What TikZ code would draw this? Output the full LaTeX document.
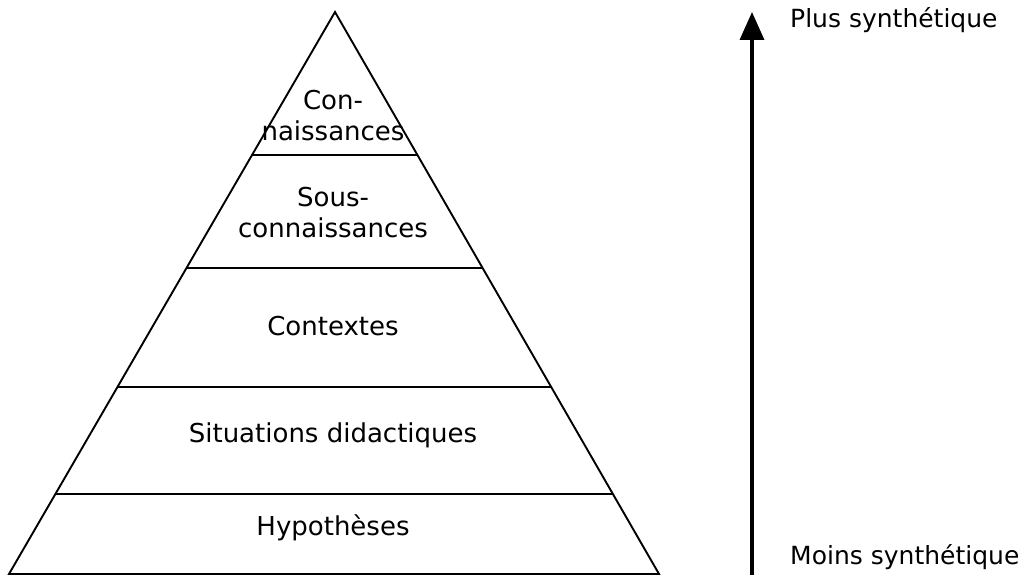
\documentclass[tikz,border=0pt]{standalone}
\usepackage{fontspec}
\setmainfont{DejaVu Sans}
\usetikzlibrary{calc,arrows.meta}
\begin{document}
\begin{tikzpicture}[x=1pt,y=-1pt,
  edge/.style={line width=1.9pt,black},
  layer/.style={font=\fontsize{26}{31}\selectfont,align=center,inner sep=0pt},
  side/.style={font=\fontsize{25}{28}\selectfont,anchor=west,inner sep=0pt}]
\useasboundingbox (0,0) rectangle (1024,577);
% pyramid outline
\coordinate (apex) at (335,12);
\coordinate (bl) at (9,574);
\coordinate (br) at (659,574);
\draw[edge,line join=miter] (apex) -- (br) -- (bl) -- cycle;
% layer boundaries
\foreach \t/\n in {0.2544/a,0.4555/b,0.6673/c,0.8577/d}{
  \coordinate (l\n) at ($(apex)!\t!(bl)$);
  \coordinate (r\n) at ($(apex)!\t!(br)$);
  \draw[edge] (l\n) -- (r\n);
}
% layer labels
\node[layer] (t1) at (333,116) {Con-\\naissances};
\node[layer] (t2) at (333,213) {Sous-\\connaissances};
\node[layer] (t3) at (333,326) {Contextes};
\node[layer] (t4) at (333,435) {Situations didactiques};
\node[layer] (t5) at (333,528) {Hypothèses};
% scale arrow
\coordinate (low) at (752,575);
\coordinate (high) at (752,12);
\draw[line width=3.5pt,-{Triangle[width=24pt,length=28pt]}] (low) -- (high);
\node[side] (plus) at (790,20) {Plus synthétique};
\node[side] (moins) at (790,557) {Moins synthétique};
\end{tikzpicture}
\end{document}
